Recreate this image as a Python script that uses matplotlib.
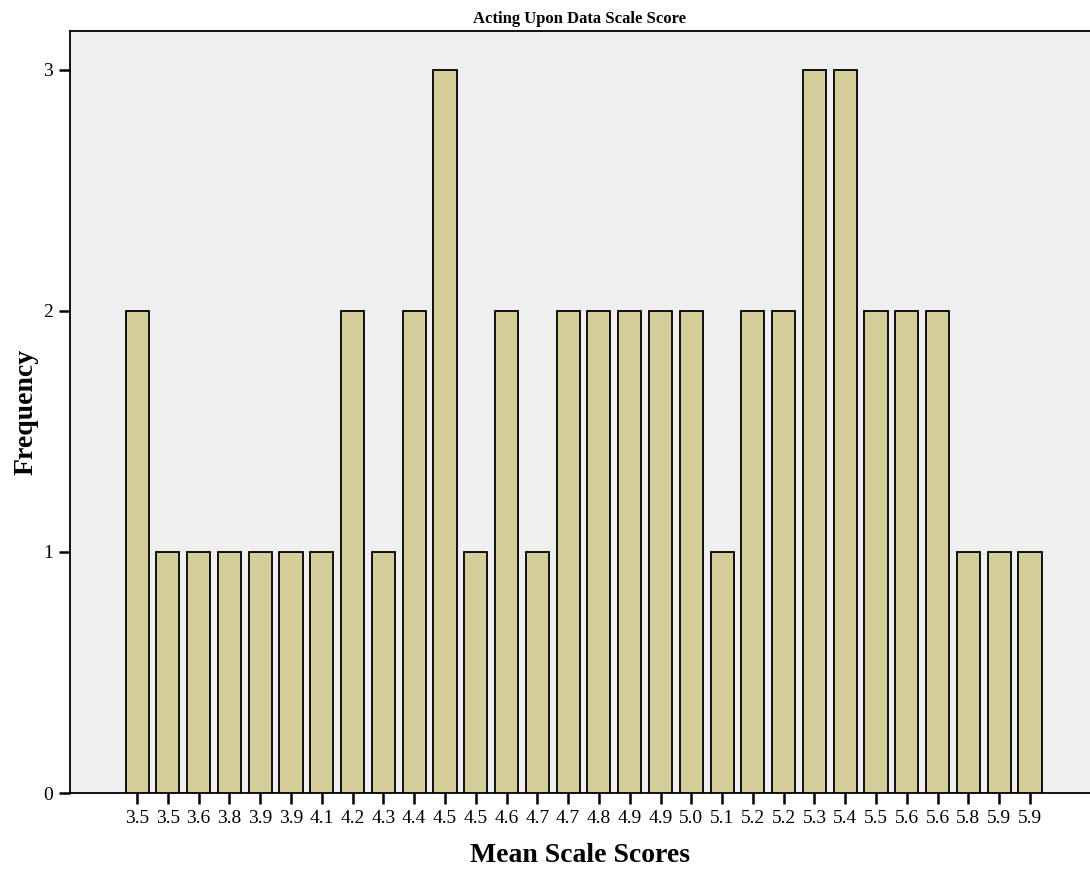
import matplotlib
matplotlib.use('Agg')

import numpy as np
import matplotlib.pyplot as plt

# Data
score_labels = ['3.5', '3.5', '3.6', '3.8', '3.9', '3.9', '4.1', '4.2', '4.3', '4.4',
                '4.5', '4.5', '4.6', '4.7', '4.7', '4.8', '4.9', '4.9', '5.0', '5.1',
                '5.2', '5.2', '5.3', '5.4', '5.5', '5.6', '5.6', '5.8', '5.9', '5.9']
frequency = [2, 1, 1, 1, 1, 1, 1, 2, 1, 2,
             3, 1, 2, 1, 2, 2, 2, 2, 2, 1,
             2, 2, 3, 3, 2, 2, 2, 1, 1, 1]
y_ticks = [0, 1, 2, 3]

BAR_COLOR = '#D4CF9A'
BG_COLOR = '#EFEFEF'
FONT = 'Liberation Serif'

fig = plt.figure(figsize=(10.9, 8.76), dpi=100)
ax = fig.add_axes([0.0642, 0.0947, 0.9358, 0.87])
ax.set_facecolor(BG_COLOR)

x = np.arange(len(frequency))
ax.bar(x, frequency, width=0.75, color=BAR_COLOR, edgecolor='black', linewidth=1.3, zorder=3)

ax.set_xlim(-2.18, 30.95)
ax.set_ylim(0, 3.16)
ax.set_xticks(x)
ax.set_xticklabels(score_labels, fontfamily=FONT, fontsize=14)
ax.set_yticks(y_ticks)
ax.set_yticklabels([str(v) for v in y_ticks], fontfamily=FONT, fontsize=14)
ax.tick_params(axis='both', direction='out', length=8, width=1.8, pad=4)

for side in ['left', 'top', 'bottom']:
    ax.spines[side].set_linewidth(1.3)
ax.spines['right'].set_visible(False)

ax.set_xlabel('Mean Scale Scores', fontfamily=FONT, fontsize=20, fontweight='bold', labelpad=12)
ax.set_ylabel('Frequency', fontfamily=FONT, fontsize=20, fontweight='bold')
ax.yaxis.set_label_coords(-0.031, 0.5)
ax.set_title('Acting Upon Data Scale Score', fontfamily=FONT, fontsize=12, fontweight='bold', pad=6)

plt.savefig('out.png', dpi=100, facecolor='white')
plt.close()
